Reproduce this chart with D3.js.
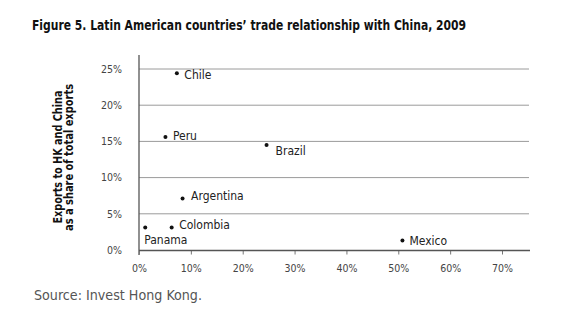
<!DOCTYPE html>
<html><head><meta charset="utf-8">
<script src="https://cdn.jsdelivr.net/npm/d3@7/dist/d3.min.js"></script>
<style>body{margin:0;background:#fff}</style>
</head><body>
<svg id="chart" width="580" height="312"></svg>
<script>
const countries = ["Chile","Peru","Brazil","Argentina","Colombia","Panama","Mexico"];
const exportShareTotal = [7.3, 5.1, 24.6, 8.4, 6.3, 1.2, 50.8]; // x (%)
const exportShareHKChina = [24.4, 15.6, 14.5, 7.1, 3.1, 3.1, 1.3]; // y (%)
const xTicks = [0,10,20,30,40,50,60,70];
const yTicks = [0,5,10,15,20,25];

// label offsets (layout only)
const labelOffset = {
  Chile:[7.5,5.5], Peru:[7.5,2.5], Brazil:[9,10], Argentina:[8.5,1],
  Colombia:[7.5,1.5], Panama:[-1,16], Mexico:[7,4.5]
};

const svg = d3.select("#chart");
const F = "'DejaVu Sans Condensed', 'DejaVu Sans', sans-serif";
const x = d3.scaleLinear().domain([0,70]).range([139,502]);
const y = d3.scaleLinear().domain([0,25]).range([250,69]);

svg.append("text").attr("x",32).attr("y",30).attr("font-family",F).attr("font-weight","bold")
  .attr("font-size",14.5).attr("fill","#111")
  .attr("textLength",434).attr("lengthAdjust","spacingAndGlyphs")
  .text("Figure 5. Latin American countries’ trade relationship with China, 2009");

// gridlines
svg.append("g").selectAll("line").data(yTicks.filter(d=>d>0)).join("line")
  .attr("x1",139).attr("x2",529).attr("y1",d=>y(d)).attr("y2",d=>y(d))
  .attr("stroke","#9a9a9a").attr("stroke-width",1);

// y axis
const yAxis = d3.axisLeft(y).tickValues(yTicks).tickFormat(d=>d+"%").tickSize(0).tickPadding(17);
const gy = svg.append("g").attr("transform","translate(139,0)").call(yAxis);
gy.select(".domain").remove();
gy.selectAll("text").attr("font-family",F).attr("font-size",10.5).attr("fill","#444");
svg.append("line").attr("x1",139).attr("x2",139).attr("y1",55).attr("y2",255).attr("stroke","#555").attr("stroke-width",1.3);

// x axis
const xAxis = d3.axisBottom(x).tickValues(xTicks).tickFormat(d=>d+"%").tickSize(4).tickPadding(10);
const gx = svg.append("g").attr("transform","translate(0,250.5)").call(xAxis);
gx.select(".domain").remove();
gx.selectAll(".tick line").attr("stroke","#777");
gx.selectAll("text").attr("font-family",F).attr("font-size",10.5).attr("fill","#444");
svg.append("line").attr("x1",139).attr("x2",530).attr("y1",250.5).attr("y2",250.5).attr("stroke","#555").attr("stroke-width",1.5);

// y title
const yt1 = svg.append("text").attr("transform","translate(62,157) rotate(-90)")
  .attr("text-anchor","middle").attr("font-family",F).attr("font-weight","bold").attr("font-size",12.5).attr("fill","#111")
  .attr("textLength",133).attr("lengthAdjust","spacingAndGlyphs").text("Exports to HK and China");
const yt2 = svg.append("text").attr("transform","translate(72.5,157.5) rotate(-90)")
  .attr("text-anchor","middle").attr("font-family",F).attr("font-weight","bold").attr("font-size",12.5).attr("fill","#111")
  .attr("textLength",147).attr("lengthAdjust","spacingAndGlyphs").text("as a share of total exports");

// points
const data = countries.map((c,i)=>({c, xv:exportShareTotal[i], yv:exportShareHKChina[i]}));
svg.append("g").selectAll("circle").data(data).join("circle")
  .attr("cx",d=>x(d.xv)).attr("cy",d=>y(d.yv)).attr("r",2).attr("fill","#111");
svg.append("g").selectAll("text").data(data).join("text")
  .attr("font-family",F).attr("font-size",12).attr("fill","#222")
  .attr("x",d=>x(d.xv)+labelOffset[d.c][0])
  .attr("y",d=>y(d.yv)+labelOffset[d.c][1])
  .text(d=>d.c);

svg.append("text").attr("x",34).attr("y",300).attr("font-family",F).attr("font-size",13.5)
  .attr("fill","#555").attr("textLength",168).attr("lengthAdjust","spacingAndGlyphs")
  .text("Source: Invest Hong Kong.");
</script>
</body></html>
